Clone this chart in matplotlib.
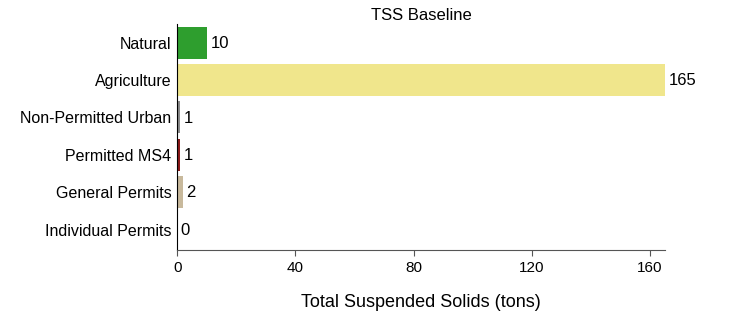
import matplotlib
matplotlib.use('Agg')
import matplotlib.pyplot as plt

plt.rcParams['font.family'] = ['Liberation Sans', 'DejaVu Sans']

# data
categories = ['Natural', 'Agriculture', 'Non-Permitted Urban', 'Permitted MS4',
              'General Permits', 'Individual Permits']
values = [10, 165, 1, 1, 2, 0]
bar_labels = ['10', '165', '1', '1', '2', '0']
colors = ['#2e9e2e', '#f0e68c', '#8a8a8a', '#8b1a1a', '#c8b99c', '#ffffff']
xticks = [0, 40, 80, 120, 160]

fig = plt.figure(figsize=(7.29, 3.15), dpi=100)
ax = fig.add_axes([0.243, 0.206, 0.669, 0.718])

y = list(range(len(categories)))
ax.barh(y, values, height=0.86, color=colors)
for yi, v, lab in zip(y, values, bar_labels):
    ax.text(v + 1.2, yi + 0.02, lab, va='center', ha='left', fontsize=12)

ax.set_ylim(len(categories) - 0.45, -0.5)
ax.set_xlim(0, 165)
ax.set_xticks(xticks)
ax.set_yticks(y)
ax.set_yticklabels(categories, fontsize=11.5)
ax.tick_params(axis='y', length=0, pad=4)
ax.tick_params(axis='x', labelsize=11, length=4, color='#555555')
for s in ['top', 'right']:
    ax.spines[s].set_visible(False)
ax.spines['bottom'].set_color('#555555')
ax.spines['left'].set_color('black')

ax.set_title('TSS Baseline', fontsize=12, pad=3)
ax.set_xlabel('Total Suspended Solids (tons)', fontsize=13, labelpad=14)

fig.savefig('out.png', dpi=100)
